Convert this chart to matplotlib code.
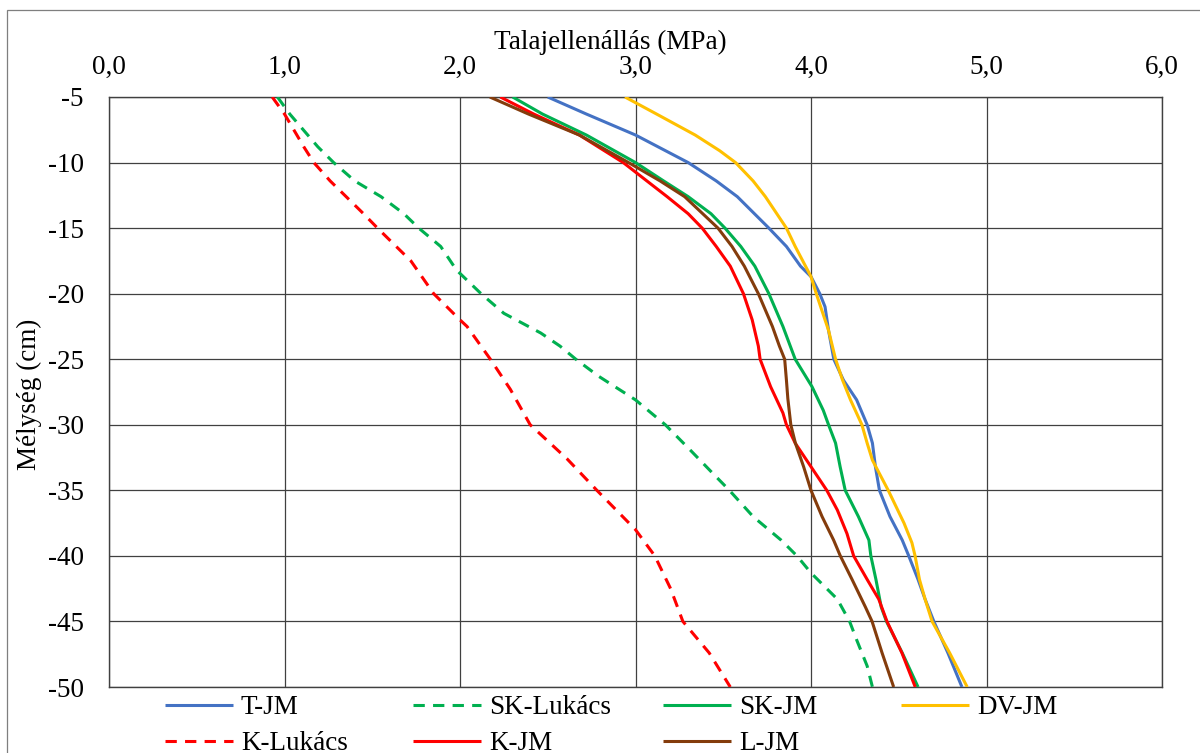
import matplotlib
matplotlib.use("Agg")
import matplotlib.pyplot as plt
from matplotlib.ticker import FixedLocator, FuncFormatter
from matplotlib.patches import Rectangle

plt.rcParams['font.family'] = ['Liberation Serif', 'DejaVu Serif']
plt.rcParams['axes.unicode_minus'] = False

# ---------------- data ----------------
x_ticks = [0.0, 1.0, 2.0, 3.0, 4.0, 5.0, 6.0]
y_ticks = [-5, -10, -15, -20, -25, -30, -35, -40, -45, -50]

series_names = ["T-JM", "SK-Lukács", "SK-JM", "DV-JM", "K-Lukács", "K-JM", "L-JM"]

t_jm_depth = [-5, -6.3, -7.9, -10, -11.4, -12.6, -15, -16.4, -17.9, -18.7, -20, -21, -22.8,
              -25, -26.6, -28.1, -30, -31.4, -33.2, -35, -37, -38.8, -40, -41.8, -43.3, -45, -47.4, -50]
t_jm_val = [2.50, 2.72, 3.00, 3.30, 3.46, 3.58, 3.76, 3.86, 3.94, 4.00, 4.05, 4.08, 4.10,
            4.13, 4.185, 4.26, 4.32, 4.35, 4.367, 4.39, 4.45, 4.52, 4.557, 4.61, 4.65, 4.70, 4.78, 4.86]

dv_jm_depth = [-5, -6.3, -7.9, -9.1, -10, -11.4, -12.6, -15, -16.4, -18.7, -20, -22.8, -25, -26.6,
               -28.1, -30, -31.4, -32.7, -35, -37.5, -39, -40, -41.8, -43.3, -45, -47.4, -50]
dv_jm_val = [2.94, 3.12, 3.34, 3.48, 3.57, 3.67, 3.74, 3.86, 3.91, 4.00, 4.03, 4.10, 4.14, 4.18,
             4.225, 4.29, 4.32, 4.35, 4.44, 4.53, 4.575, 4.593, 4.618, 4.65, 4.69, 4.79, 4.89]

sk_jm_depth = [-5, -6.3, -7.9, -10, -11.4, -12.6, -13.9, -15, -16.4, -17.9, -20, -22.5, -25, -27.1,
               -28.9, -30, -31.4, -33.2, -35, -37, -38.8, -40, -41.8, -43.9, -45, -47.4, -50]
sk_jm_val = [2.30, 2.47, 2.72, 3.00, 3.16, 3.30, 3.43, 3.51, 3.60, 3.68, 3.76, 3.84, 3.91, 4.006,
             4.07, 4.10, 4.14, 4.166, 4.195, 4.27, 4.33, 4.341, 4.37, 4.40, 4.43, 4.52, 4.61]

k_jm_depth = [-5, -6.3, -7.9, -10, -12.6, -13.9, -15, -16.4, -17.9, -20, -22, -24, -25, -27.1,
              -29.1, -30, -31.4, -33.2, -35, -36.5, -38.3, -40, -41.8, -43.3, -45, -47.4, -50]
k_jm_val = [2.23, 2.42, 2.68, 2.93, 3.18, 3.30, 3.38, 3.46, 3.54, 3.615, 3.665, 3.70, 3.71, 3.77,
            3.84, 3.86, 3.91, 4.00, 4.09, 4.15, 4.205, 4.243, 4.32, 4.386, 4.433, 4.518, 4.594]

l_jm_depth = [-5, -6.3, -7.9, -10, -11.4, -12.6, -15, -16.4, -17.9, -20, -22.5, -24, -25, -26.6, -28,
              -30, -31.4, -33.2, -35, -37, -38.8, -40, -41.8, -43.9, -45, -47.4, -50]
l_jm_val = [2.17, 2.39, 2.68, 2.96, 3.14, 3.28, 3.47, 3.55, 3.62, 3.70, 3.78, 3.82, 3.85, 3.86, 3.868,
            3.885, 3.911, 3.958, 4.00, 4.063, 4.129, 4.167, 4.234, 4.31, 4.348, 4.405, 4.471]

sk_luk_depth = [-5, -6.3, -8.8, -10, -11.4, -12.6, -13.9, -15, -16.4, -18.2, -20, -21.5, -23, -24, -25,
                -26.3, -28.1, -30, -31.9, -33.7, -35, -37, -38.8, -40, -41.3, -43.3, -45, -46.4, -48.4, -50]
sk_luk_val = [0.96, 1.03, 1.19, 1.28, 1.40, 1.55, 1.68, 1.765, 1.89, 1.98, 2.12, 2.25, 2.46, 2.57, 2.66,
              2.79, 3.00, 3.17, 3.31, 3.44, 3.535, 3.67, 3.83, 3.92, 4.00, 4.15, 4.22, 4.26, 4.32, 4.35]

k_luk_depth = [-5, -6.3, -8.8, -10, -11.4, -13.9, -15, -17.5, -20, -22, -22.5, -25, -27.3, -30, -32.6,
               -35, -38, -40, -42.5, -45, -47.4, -50]
k_luk_val = [0.93, 1.00, 1.11, 1.167, 1.26, 1.45, 1.53, 1.72, 1.85, 2.00, 2.04, 2.173, 2.287, 2.40, 2.61,
             2.78, 3.00, 3.11, 3.20, 3.27, 3.42, 3.54]

# ---------------- style ----------------
colors = {"T-JM": "#4472C4", "SK-Lukács": "#00B050", "SK-JM": "#00B050", "DV-JM": "#FFC000",
          "K-Lukács": "#FF0000", "K-JM": "#FF0000", "L-JM": "#843C0C"}
dashed = {"SK-Lukács", "K-Lukács"}
data = {"T-JM": (t_jm_val, t_jm_depth), "SK-Lukács": (sk_luk_val, sk_luk_depth),
        "SK-JM": (sk_jm_val, sk_jm_depth), "DV-JM": (dv_jm_val, dv_jm_depth),
        "K-Lukács": (k_luk_val, k_luk_depth), "K-JM": (k_jm_val, k_jm_depth),
        "L-JM": (l_jm_val, l_jm_depth)}

FS = 19.5
W, H = 1200, 753
fig = plt.figure(figsize=(W / 100, H / 100), dpi=100)
fig.patch.set_facecolor("white")

# outer chart frame
fig.add_artist(Rectangle((7 / W, -0.05), 1.2, (H - 10) / H + 0.05, transform=fig.transFigure,
                         fill=False, edgecolor="#7f7f7f", lw=0.9))

left, right, top, bottom = 109, 1162, 97, 687
ax = fig.add_axes([left / W, 1 - bottom / H, (right - left) / W, (bottom - top) / H])

handles = {}
for name in series_names:
    xv, yv = data[name]
    ls = (0, (3.7, 2.7)) if name in dashed else "-"
    ln, = ax.plot(xv, yv, color=colors[name], lw=2.2, ls=ls, label=name,
                  solid_capstyle="butt", dash_capstyle="butt", solid_joinstyle="round", zorder=3)
    handles[name] = ln

ax.set_xlim(0, 6)
ax.set_ylim(-50, -5)
ax.xaxis.tick_top()
ax.xaxis.set_major_locator(FixedLocator(x_ticks))
ax.xaxis.set_major_formatter(FuncFormatter(lambda v, p: f"{v:.1f}".replace(".", ",")))
ax.yaxis.set_major_locator(FixedLocator(y_ticks))
ax.yaxis.set_major_formatter(FuncFormatter(lambda v, p: f"{int(round(v))}"))
ax.tick_params(axis="both", length=0, labelsize=FS, colors="black")
ax.tick_params(axis="x", pad=12)
ax.tick_params(axis="y", pad=18)
ax.grid(True, color="#404040", lw=0.9, zorder=1)
ax.set_axisbelow(True)
for s in ax.spines.values():
    s.set_color("#404040")
    s.set_linewidth(1.0)

fig.text(610 / W, 1 - 42 / H, "Talajellenállás (MPa)", ha="center", va="center", fontsize=FS)
fig.text(29 / W, 1 - 394 / H, "Mélység (cm)", ha="center", va="center", rotation=90, fontsize=FS)

# legend: four columns placed like the reference
columns = [["T-JM", "K-Lukács"], ["SK-Lukács", "K-JM"], ["SK-JM", "L-JM"], ["DV-JM"]]
col_x = [165, 413, 663, 901]
for names, cx in zip(columns, col_x):
    fig.legend(handles=[handles[n] for n in names], labels=names, loc="upper left",
               bbox_to_anchor=(cx / W, 1 - 695 / H), bbox_transform=fig.transFigure,
               frameon=False, fontsize=FS, borderpad=0, borderaxespad=0,
               handlelength=2.5, handletextpad=0.3, labelspacing=0.42)

fig.savefig("out.png", dpi=100, facecolor="white")
